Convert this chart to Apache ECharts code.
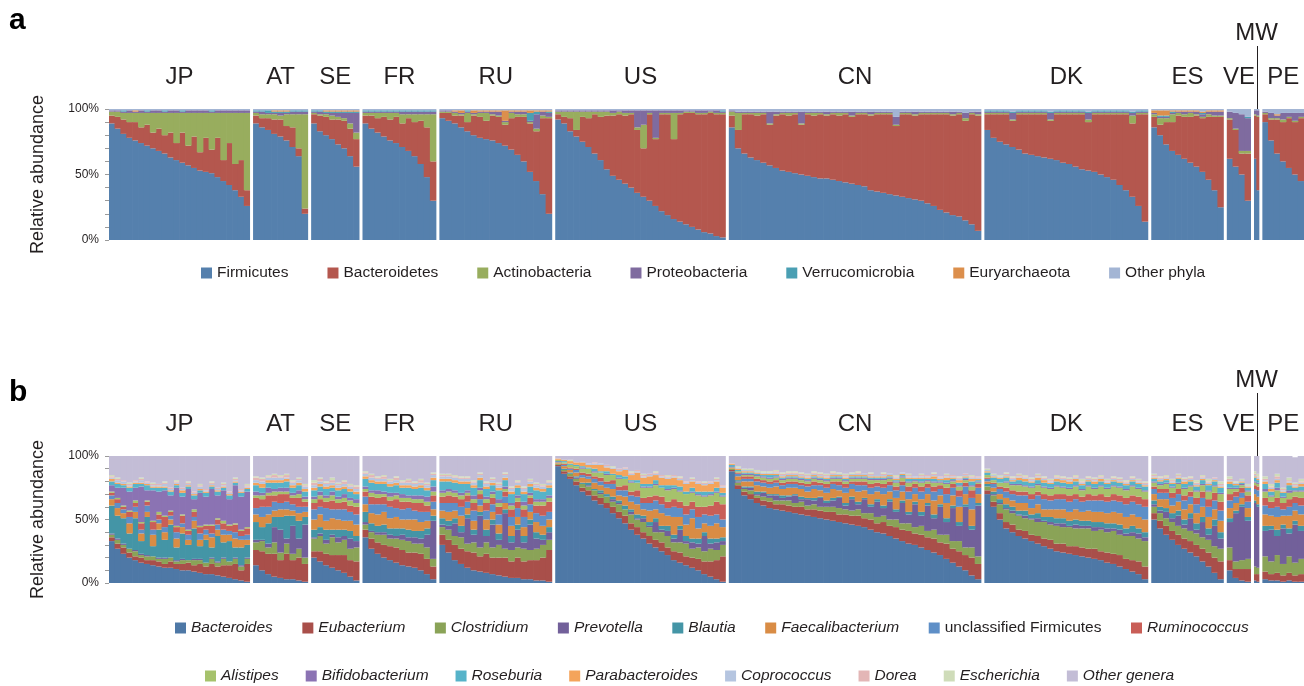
<!DOCTYPE html>
<html><head><meta charset="utf-8">
<script src="https://cdn.jsdelivr.net/npm/echarts@6/dist/echarts.min.js"></script>
<style>html,body{margin:0;padding:0;background:#fff}#c{width:1304px;height:686px}</style>
</head><body><div id="c"></div>
<script>
// ---------------- data ----------------
const countries = ['JP','AT','SE','FR','RU','US','CN','DK','ES','VE','MW','PE'];
// approximate number of individuals per country (sets the panel widths)
const sampleCounts = [105,41,36,55,84,127,188,122,54,18,4,31];
const phylumNames = ['Firmicutes','Bacteroidetes','Actinobacteria','Proteobacteria','Verrucomicrobia','Euryarchaeota','Other phyla'];
const phylumColors = ['#5580ad','#b4574e','#98ad5e','#7f6b9f','#4a9fb3','#dc8f4c','#a3b5d4'];
const genusNames = ['Bacteroides','Eubacterium','Clostridium','Prevotella','Blautia','Faecalibacterium','unclassified Firmicutes','Ruminococcus','Alistipes','Bifidobacterium','Roseburia','Parabacteroides','Coprococcus','Dorea','Escherichia','Other genera'];
const genusColors = ['#4e78a6','#a94f4a','#8aa357','#72609a','#4495a6','#d98c45','#5e8fc7','#c95e57','#a6c26c','#8b73b3','#56b3c9','#f4a45b','#b5c5e0','#e3b6b6','#cfdcb9','#c3bdd6'];
const yTickLabels = ['0%','50%','100%'];

// panel a: relative abundance (%) per sample group, columns follow phylumNames
const phylaJP = [[89,6,3,1,0,0,1],[85,9,4,1,0,0,1],[81,11,5,1,1,0,1],[78,12,7,2,0,0,1],[76,14,7,1,0,1,1],[74,12,11,2,0,0,1],[72,16,9,1,1,0,1],[70,12,15,2,0,0,1],[68,17,12,2,0,0,1],[66,14,17,1,1,0,1],[63,19,15,2,0,0,1],[61,13,23,2,0,0,1],[59,23,15,1,1,0,1],[57,15,25,2,0,0,1],[55,24,18,2,0,0,1],[53,14,30,2,0,0,1],[52,26,19,2,0,0,1],[51,18,28,1,1,0,1],[48,30,19,2,0,0,1],[45,16,36,2,0,0,1],[42,32,23,2,0,0,1],[38,20,39,2,0,0,1],[33,28,36,2,0,0,1],[26,12,59,2,0,0,1]];
const phylaAT = [[89,6,2,1,1,0,1],[86,7,3,2,1,0,1],[84,9,3,1,2,0,1],[81,11,4,1,1,1,1],[79,13,3,2,1,1,1],[76,11,9,1,1,1,1],[71,15,10,2,1,0,1],[64,6,26,2,1,0,1],[20,4,72,2,1,0,1]];
const phylaSE = [[89,7,1,1,1,0,1],[83,12,1,2,1,0,1],[80,14,2,1,1,1,1],[77,15,3,2,1,1,1],[73,19,2,3,1,1,1],[70,21,2,4,1,1,1],[64,21,4,8,1,1,1],[56,21,5,15,1,1,1]];
const phylaFR = [[89,6,2,1,1,0,1],[85,10,2,1,1,0,1],[82,11,4,1,1,0,1],[79,15,3,1,1,0,1],[76,16,5,1,1,0,1],[74,20,3,1,1,0,1],[71,18,7,2,1,0,1],[68,25,3,2,1,0,1],[64,26,6,2,1,0,1],[58,33,5,2,1,0,1],[48,38,10,2,1,0,1],[30,30,36,2,1,0,1]];
const phylaRU = [[93,4,1,1,0,0,1],[91,6,1,1,0,0,1],[89,6,2,1,0,1,1],[86,9,1,1,0,2,1],[83,7,7,1,1,0,1],[80,15,1,1,0,2,1],[78,16,3,1,0,1,1],[77,14,6,1,0,1,1],[76,19,1,2,0,1,1],[74,20,1,3,0,1,1],[72,16,2,1,0,8,1],[69,24,4,1,0,1,1],[65,29,2,2,0,1,1],[60,34,2,2,0,1,1],[52,37,1,1,6,2,1],[45,38,2,11,2,1,1],[35,58,2,3,0,1,1],[20,73,1,3,1,1,1]];
const phylaUS = [[92,4,2,1,0,0,1],[89,5,4,1,0,0,1],[83,10,5,1,0,0,1],[79,5,14,1,0,0,1],[75,19,4,1,0,0,1],[71,22,5,1,0,0,1],[66,30,2,1,0,0,1],[61,33,4,1,0,0,1],[54,41,3,1,0,0,1],[49,46,2,2,0,0,1],[46,50,2,1,0,0,1],[43,52,2,2,0,0,1],[40,56,1,2,0,0,1],[36,48,2,13,0,0,1],[33,37,18,11,0,0,1],[30,66,1,2,0,0,1],[26,51,1,21,0,0,1],[22,74,1,2,0,0,1],[19,77,1,2,0,0,1],[16,61,20,2,0,0,1],[14,82,1,2,0,0,1],[12,85,1,1,0,0,1],[10,87,1,1,0,0,1],[8,88,1,2,0,0,1],[6,90,1,2,0,0,1],[5,92,1,1,0,0,1],[3,93,1,2,0,0,1],[2,94,1,1,1,0,1]];
const phylaCN = [[86,9,3,1,0,0,1],[70,14,13,1,0,0,2],[66,30,1,1,0,0,2],[63,33,1,1,0,0,2],[61,34,2,1,0,0,2],[59,37,1,1,0,0,2],[57,31,1,9,0,0,2],[55,40,1,2,0,0,2],[53,43,1,1,0,0,2],[52,43,2,1,0,0,2],[51,45,1,1,0,0,2],[50,38,1,9,0,0,2],[49,47,1,1,0,0,2],[48,47,2,1,0,0,2],[47,49,1,1,0,0,2],[47,48,1,2,0,0,2],[46,50,1,1,0,0,2],[45,50,2,1,0,0,2],[44,52,1,1,0,0,2],[43,51,1,3,0,0,2],[42,54,1,1,0,0,2],[41,55,1,1,0,0,2],[38,57,1,2,0,0,2],[37,59,1,1,0,0,2],[36,60,1,1,0,0,2],[35,61,1,1,0,0,2],[34,53,1,6,0,0,6],[33,63,1,1,0,0,2],[32,64,1,1,0,0,2],[31,64,1,2,0,0,2],[30,66,1,1,0,0,2],[28,68,1,1,0,0,2],[26,70,1,1,0,0,2],[23,73,1,1,0,0,2],[21,75,1,1,0,0,2],[19,76,1,2,0,0,2],[18,78,1,1,0,0,2],[15,76,2,4,0,0,3],[12,84,1,1,0,0,2],[7,88,1,2,0,0,2]];
const phylaDK = [[84,12,1,1,1,0,1],[78,18,1,1,1,0,1],[75,21,1,1,1,0,1],[73,23,1,1,1,0,1],[71,20,1,5,1,0,2],[69,27,1,1,1,0,1],[66,30,1,1,1,0,1],[65,31,1,1,1,0,1],[64,32,1,1,1,0,1],[63,33,1,1,1,0,1],[62,29,1,5,1,0,2],[61,35,1,1,1,0,1],[59,37,1,1,1,0,1],[58,38,1,1,1,0,1],[56,40,1,1,1,0,1],[54,42,1,1,1,0,1],[53,37,2,5,1,0,2],[52,44,1,1,1,0,1],[50,46,1,1,1,0,1],[48,48,1,1,1,0,1],[46,50,1,1,1,0,1],[42,54,1,1,1,0,1],[38,58,1,1,1,0,1],[33,56,6,2,1,0,2],[26,70,1,1,1,0,1],[14,82,1,1,1,0,1]];
const phylaES = [[86,8,2,1,0,2,1],[80,8,5,1,1,4,1],[73,17,3,1,1,4,1],[68,22,6,1,1,1,1],[65,30,2,1,0,1,1],[62,32,2,2,0,1,1],[59,35,3,1,0,1,1],[56,39,1,2,0,1,1],[52,41,1,2,1,1,2],[46,48,2,2,0,1,1],[38,56,1,3,0,1,1],[25,69,1,3,0,1,1]];
const phylaVE = [[62,30,1,5,0,0,2],[56,28,1,12,0,0,3],[50,16,2,28,0,0,4],[30,36,2,25,1,0,6]];
const phylaMW = [[62,33,1,3,0,0,1],[38,56,1,4,0,0,1]];
const phylaPE = [[90,6,1,1,0,0,2],[76,16,1,4,0,0,3],[66,26,1,2,0,1,4],[60,30,2,5,0,0,3],[55,38,1,3,0,0,3],[50,40,1,6,0,0,3],[45,48,1,3,0,0,3]];

// panel b: relative abundance (%) per sample group, columns follow genusNames
const generaJP = [[33,3,2,1,22,5,3,2,1,5,3,2,1,1,1,15],[27,4,3,1,18,6,4,3,1,8,3,1,2,1,1,17],[23,5,2,1,20,4,3,2,1,14,2,1,2,1,0,19],[20,4,3,0,12,8,5,4,1,15,3,1,1,1,1,21],[18,3,4,1,25,5,4,3,2,10,3,1,1,1,0,19],[16,4,2,1,10,6,3,5,1,28,2,1,2,1,1,17],[15,3,3,1,30,4,5,3,1,8,4,1,1,1,0,20],[14,4,3,0,8,9,4,6,1,24,2,1,1,1,1,21],[13,4,2,1,22,5,3,4,2,16,3,1,1,1,0,22],[12,3,4,1,14,6,4,8,1,20,2,1,2,1,1,20],[12,5,3,0,26,4,3,3,1,12,3,1,1,1,0,25],[11,4,2,1,10,7,5,4,1,30,2,1,1,1,1,19],[10,5,3,1,20,5,3,6,1,14,3,2,1,1,0,25],[10,6,2,0,12,4,4,3,1,32,2,1,1,1,1,20],[9,5,4,1,24,6,3,4,2,8,3,1,1,1,0,28],[8,7,3,1,10,5,5,5,1,26,2,1,2,1,1,22],[7,6,3,0,18,4,4,3,1,22,3,1,1,1,0,26],[7,8,4,1,8,8,3,6,1,28,2,1,1,1,1,20],[6,7,3,1,20,5,4,4,1,18,3,1,1,1,0,25],[5,9,5,1,12,6,4,5,2,24,2,1,1,1,1,21],[4,10,3,0,16,5,3,4,1,20,3,1,1,1,0,28],[3,12,4,1,8,7,5,6,1,30,2,1,1,1,1,17],[2,8,3,1,14,6,3,4,1,26,3,1,1,1,0,26],[1,14,4,1,10,4,4,5,1,28,2,1,1,1,1,22]];
const generaAT = [[14,12,6,2,14,6,5,8,2,3,5,2,2,2,1,16],[10,15,8,1,10,8,8,6,3,2,4,3,2,2,1,17],[7,16,5,3,16,7,6,9,2,4,4,2,2,1,1,15],[5,18,9,12,8,5,7,5,3,2,5,2,2,2,1,14],[4,14,6,18,10,6,5,7,2,3,4,2,2,1,1,15],[3,20,8,4,18,5,6,6,2,3,5,2,1,2,1,14],[3,15,5,22,8,4,5,5,2,2,4,2,2,1,1,19],[2,18,7,8,14,6,5,7,3,3,4,2,2,1,1,17],[1,14,5,26,6,4,4,4,2,2,4,2,2,1,1,22]];
const generaSE = [[20,5,10,1,6,8,8,5,3,2,5,2,2,2,2,19],[17,8,12,2,5,10,6,6,3,3,4,2,2,2,1,17],[14,9,8,3,8,7,10,5,3,2,5,2,2,1,1,20],[12,10,14,2,4,9,7,7,4,3,3,2,2,2,2,17],[10,12,10,4,6,8,8,5,3,2,5,2,2,1,1,21],[8,14,12,3,5,7,9,6,3,3,4,2,2,2,1,19],[5,13,9,8,6,8,7,5,4,2,5,2,2,1,1,22],[2,15,11,5,4,9,8,6,3,3,4,2,2,2,1,23]];
const generaFR = [[36,6,4,2,8,6,6,4,2,2,6,2,2,1,1,12],[27,8,5,1,6,8,7,6,3,2,6,2,2,2,1,14],[23,9,6,2,5,9,8,5,3,3,5,2,2,1,1,16],[20,10,8,2,6,10,6,6,2,2,6,2,2,2,1,15],[18,11,6,3,5,8,9,5,3,3,5,2,2,1,1,18],[16,12,7,2,6,9,7,7,3,2,6,2,2,2,1,16],[14,12,8,4,5,7,8,6,3,3,5,2,2,1,1,19],[13,11,9,3,6,8,9,5,3,2,6,2,2,2,1,18],[12,12,7,5,5,9,7,6,3,3,5,2,2,1,1,20],[10,13,8,4,6,7,8,7,3,3,6,2,2,2,1,18],[7,12,9,10,5,6,7,5,3,4,5,2,2,1,1,21],[3,10,6,30,4,5,6,5,3,4,5,2,2,1,1,13]];
const generaRU = [[30,8,6,2,5,6,6,5,3,2,7,2,2,1,1,14],[24,10,8,3,4,7,7,6,3,2,6,2,2,1,1,14],[18,12,7,10,4,6,6,5,3,2,6,2,2,1,1,15],[15,12,9,4,5,8,7,6,3,2,7,2,2,1,1,16],[12,13,6,20,3,5,5,5,2,2,5,2,2,1,1,16],[10,14,8,6,4,7,8,6,3,3,6,2,2,1,1,19],[9,12,7,25,3,5,5,4,3,2,6,2,2,1,1,13],[8,15,9,5,5,8,7,6,3,2,6,2,2,1,1,20],[7,13,8,18,4,6,6,5,3,2,5,2,2,1,1,17],[6,14,10,4,5,7,8,6,3,3,7,2,2,1,1,21],[5,15,7,28,3,5,5,4,2,2,5,2,2,1,1,13],[4,13,9,6,5,8,7,6,3,2,7,2,2,1,1,24],[4,16,8,14,4,6,7,5,3,2,6,2,2,1,1,19],[3,14,10,5,5,7,8,6,3,3,6,2,2,1,1,24],[3,15,8,20,4,6,6,5,2,2,5,2,2,1,1,18],[2,16,9,8,5,8,7,6,3,2,7,2,2,1,1,21],[2,18,10,4,4,7,8,8,3,2,6,2,2,1,1,22],[1,25,8,6,4,6,6,8,3,2,6,2,2,1,1,19]];
const generaUS = [[92,1,1,0,0,1,1,0,1,0,0,1,0,0,0,2],[86,2,1,0,1,2,1,1,1,0,1,1,0,0,0,3],[82,2,2,0,1,2,1,1,2,0,1,2,0,0,1,3],[77,3,2,1,1,3,2,1,2,0,1,2,0,0,0,5],[72,3,3,0,1,4,2,2,3,1,1,3,1,0,0,4],[69,4,3,1,2,3,2,2,4,0,1,2,1,0,0,6],[65,4,4,0,1,5,3,2,3,1,2,3,1,1,0,5],[62,5,3,1,2,4,3,3,4,0,1,5,1,0,0,6],[59,4,5,0,2,5,3,2,5,1,2,3,1,1,0,7],[55,5,4,2,2,6,4,3,4,0,1,4,1,0,1,8],[51,5,6,1,2,4,4,3,6,1,2,3,1,1,0,10],[47,6,5,0,3,7,5,4,5,0,2,5,1,1,0,9],[42,5,7,2,2,6,5,3,7,1,1,4,1,1,1,12],[38,6,6,1,3,8,6,5,6,0,2,6,1,1,0,11],[35,5,8,3,2,5,5,4,8,1,2,5,1,1,1,14],[31,6,7,1,3,9,6,5,7,1,2,6,1,1,0,14],[28,6,6,8,3,7,7,4,8,1,3,4,1,1,1,12],[25,7,8,2,3,10,7,6,7,0,2,6,1,1,0,15],[22,6,9,4,4,8,6,5,9,1,3,5,1,1,1,15],[18,7,7,3,3,14,8,6,8,1,2,6,1,1,0,15],[16,8,8,10,3,7,7,5,8,1,3,5,1,1,1,16],[14,7,10,2,4,9,8,7,9,0,2,6,1,1,0,20],[12,8,7,5,3,16,7,6,7,1,3,5,1,1,1,17],[10,9,9,3,4,8,9,8,9,1,2,6,1,1,0,20],[7,10,8,12,3,7,7,6,8,1,3,5,1,1,1,20],[5,12,10,4,4,10,8,8,8,1,2,6,1,1,0,20],[3,15,8,6,3,12,7,10,7,1,3,5,1,1,1,17],[1,20,9,3,3,8,6,12,6,1,2,4,1,1,0,23]];
const generaCN = [[88,1,1,0,0,1,1,0,0,0,1,1,0,0,0,6],[74,3,2,1,1,3,2,1,1,0,1,1,1,0,1,8],[69,3,2,1,1,4,2,2,1,1,1,1,1,0,1,10],[66,4,3,2,1,4,2,2,1,1,1,1,1,0,1,10],[63,4,2,1,2,5,3,2,2,1,1,1,1,0,1,11],[61,4,3,3,1,4,3,2,2,1,1,1,1,0,1,12],[59,5,3,2,1,5,3,2,2,1,2,1,1,0,1,12],[58,4,3,4,1,6,3,2,2,1,1,1,1,1,1,11],[57,5,3,2,2,5,3,2,2,1,1,1,1,1,1,13],[56,5,4,3,1,6,3,2,2,1,1,1,1,1,1,12],[55,5,3,6,1,5,3,2,2,1,1,1,1,1,1,12],[54,6,4,2,2,6,3,2,2,1,1,1,1,1,1,13],[53,5,3,5,1,5,4,2,2,1,1,1,1,1,1,14],[52,6,4,3,2,7,3,3,2,1,1,1,1,1,1,12],[51,6,3,7,1,5,4,2,2,1,1,1,1,1,1,13],[50,6,4,3,2,6,4,3,2,1,1,1,1,1,1,14],[49,7,4,5,2,7,4,2,2,1,1,1,1,1,1,12],[48,6,5,8,1,5,4,3,2,1,1,1,1,0,1,13],[47,7,4,3,2,8,4,3,2,1,1,1,1,1,1,14],[46,7,4,9,2,6,4,2,2,1,1,1,1,0,1,13],[45,8,5,4,2,8,5,3,2,1,1,1,1,1,1,12],[44,7,4,11,1,6,4,3,2,1,1,1,1,0,0,14],[42,8,5,5,2,8,5,3,3,1,1,1,1,1,1,13],[40,7,5,12,2,6,4,3,2,1,1,1,1,0,0,15],[39,9,5,6,2,9,5,3,3,1,1,1,1,1,1,13],[37,8,5,14,2,6,5,3,2,1,1,1,1,0,0,14],[35,9,6,6,2,9,6,3,3,1,1,1,1,1,1,15],[33,9,5,16,2,7,5,3,3,1,1,1,1,0,0,13],[31,10,6,7,2,10,6,4,3,1,2,1,1,1,1,14],[30,9,5,18,2,6,5,3,2,1,1,1,1,0,0,16],[28,10,7,8,3,10,6,4,3,1,2,1,1,1,1,14],[26,10,5,20,2,7,5,3,2,1,1,1,1,1,0,15],[24,11,7,9,3,11,7,4,3,1,2,2,1,1,1,13],[22,10,6,22,2,7,5,3,2,1,1,1,1,1,0,16],[19,12,7,10,3,12,7,5,3,1,2,2,1,1,1,14],[16,11,6,26,2,8,6,3,2,1,1,1,1,1,0,15],[13,12,8,12,3,12,8,5,3,1,2,2,1,1,1,16],[10,12,6,32,2,8,6,3,2,1,1,1,1,1,0,14],[6,14,8,14,3,13,9,6,3,1,3,2,1,1,1,15],[3,12,6,40,2,7,5,3,1,1,1,1,1,1,0,16]];
const generaDK = [[70,3,3,0,2,2,2,1,2,0,2,1,1,0,1,10],[60,4,5,1,2,3,3,1,2,0,2,1,1,0,1,14],[50,5,7,1,3,4,4,2,3,0,3,1,1,0,1,15],[43,5,10,1,3,5,5,3,4,1,3,1,1,1,1,13],[40,6,9,2,3,5,5,3,4,1,2,1,1,1,1,16],[37,5,11,1,3,6,6,3,5,1,3,2,1,1,1,14],[35,6,10,2,4,6,6,3,4,1,3,2,1,1,1,15],[33,5,12,1,3,5,7,4,5,1,3,1,1,1,1,17],[31,6,11,3,4,7,7,3,5,1,3,2,1,1,1,14],[29,6,13,1,3,6,8,4,5,1,3,2,1,1,1,16],[27,7,12,2,4,6,7,4,5,1,3,1,1,1,1,18],[25,6,14,2,4,7,8,4,6,1,3,2,1,1,1,15],[24,7,13,3,4,7,8,4,5,1,3,2,1,1,1,16],[23,6,15,1,4,7,8,5,5,1,3,2,1,1,1,17],[22,7,14,3,4,8,8,4,6,1,3,2,1,1,1,15],[21,7,15,2,4,7,8,4,5,1,3,1,1,1,2,18],[20,7,16,2,4,8,8,5,6,1,3,1,1,1,1,16],[19,8,14,3,4,8,9,4,5,1,3,2,1,1,1,17],[18,7,17,2,4,8,9,5,6,1,3,2,1,1,1,15],[16,8,16,3,4,8,9,4,6,1,3,1,1,1,1,18],[15,8,18,2,4,9,9,5,6,1,3,1,1,1,1,16],[13,9,16,4,4,9,9,5,6,1,3,1,1,1,1,17],[11,8,18,2,4,9,10,5,6,1,3,1,1,1,1,19],[9,9,19,3,5,9,10,5,7,1,3,1,1,1,1,16],[7,10,18,4,4,9,10,6,6,1,3,1,1,1,1,18],[3,10,20,3,4,10,10,6,6,1,3,1,1,1,1,20]];
const generaES = [[50,5,5,2,3,5,4,2,3,1,2,1,1,1,1,14],[43,6,6,2,3,6,5,3,3,1,2,1,1,1,1,16],[38,7,6,5,3,7,5,3,4,1,2,1,1,1,1,15],[34,7,7,3,4,6,6,4,4,1,2,1,1,1,1,18],[30,8,7,8,4,7,6,4,4,1,3,1,1,1,1,14],[27,8,8,3,4,8,7,4,5,1,3,2,1,1,1,17],[24,9,8,10,4,7,6,4,4,1,3,1,1,1,1,16],[21,9,9,3,5,8,7,5,5,1,3,1,1,1,2,19],[17,10,9,12,4,8,7,5,5,1,3,1,1,1,1,15],[13,11,10,4,5,9,8,6,6,1,4,1,1,1,2,18],[8,12,9,16,5,8,7,6,5,1,3,1,1,1,0,17],[3,14,10,8,5,9,8,7,6,1,4,1,1,1,2,20]];
const generaVE = [[10,8,10,20,3,8,6,5,4,1,3,2,1,1,2,16],[4,7,6,38,2,6,5,4,2,1,2,1,1,0,1,20],[2,9,7,42,2,5,4,4,2,1,1,1,1,0,1,18],[1,10,8,30,3,7,5,5,3,1,2,1,1,0,1,22]];
const generaMW = [[2,5,6,50,2,5,4,3,2,1,3,1,1,1,2,12],[1,6,5,48,2,6,5,3,2,1,2,1,1,1,2,14]];
const generaPE = [[3,6,12,20,4,9,7,6,5,2,4,2,1,1,2,16],[2,5,10,25,3,8,6,5,4,1,3,2,1,1,2,22],[2,6,14,15,5,10,8,7,6,2,4,2,1,2,2,14],[1,5,9,28,3,7,5,5,4,1,3,1,1,1,1,25],[2,6,13,18,4,10,7,6,5,2,4,2,1,1,2,17],[1,5,10,30,3,8,6,5,4,1,2,1,1,1,1,20],[1,6,12,22,4,9,7,6,5,1,3,2,1,1,2,18]];

const phylaRows = [phylaJP,phylaAT,phylaSE,phylaFR,phylaRU,phylaUS,phylaCN,phylaDK,phylaES,phylaVE,phylaMW,phylaPE];
const generaRows = [generaJP,generaAT,generaSE,generaFR,generaRU,generaUS,generaCN,generaDK,generaES,generaVE,generaMW,generaPE];

// ---------------- layout ----------------
const FONT = "'Liberation Sans', Arial, Helvetica, sans-serif";
const INK = '#231f20';
const PLOT_LEFT = 109, PLOT_RIGHT = 1304, GAP = 3;
const panels = [
  {key:'a', top:109, height:131, names:phylumNames, colors:phylumColors, rows:phylaRows, labelGap:20, mwGap:64},
  {key:'b', top:456, height:127, names:genusNames, colors:genusColors, rows:generaRows, labelGap:20, mwGap:64}
];
const total = sampleCounts.reduce((s,v)=>s+v,0);
const unit = (PLOT_RIGHT - PLOT_LEFT - GAP*(countries.length-1)) / total;

const grids=[], xAxes=[], yAxes=[], series=[], graphics=[];
panels.forEach((p)=>{
  let cum = 0;
  countries.forEach((c,ci)=>{
    const left = PLOT_LEFT + cum*unit + ci*GAP;
    const width = sampleCounts[ci]*unit;
    cum += sampleCounts[ci];
    const gi = grids.length;
    grids.push({left:left, top:p.top, width:width, height:p.height});
    const rows = p.rows[ci];
    // bars slightly wider than their band so neighbours overlap (no hairline seams)
    const bw = width/rows.length + 0.7;
    xAxes.push({
      type:'category', gridIndex:gi, position:'top', boundaryGap:true,
      data: rows.map((r,i)=>c+(i+1)),
      axisLine:{show:false}, axisTick:{show:false}, axisLabel:{show:false}, splitLine:{show:false},
      name:c, nameLocation:'middle', nameGap:(c==='MW'?p.mwGap:p.labelGap),
      nameTextStyle:{fontSize:24, color:INK, fontFamily:FONT}
    });
    const first = ci===0;
    yAxes.push({
      type:'value', gridIndex:gi, min:0, max:100, interval:10, show:first,
      splitLine:{show:false}, axisLine:{show:false},
      axisTick:{show:true, length:4, lineStyle:{color:'#9a9a9a', width:1}},
      axisLabel:{margin:10, color:INK, fontSize:12, fontFamily:FONT,
        formatter:(v)=>{ const t = v+'%'; return yTickLabels.indexOf(t)>=0 ? t : ''; }},
      name: first ? 'Relative abundance' : '', nameLocation:'middle', nameRotate:90, nameGap:62,
      nameTextStyle:{fontSize:18, color:INK, fontFamily:FONT}
    });
    p.names.forEach((n,k)=>{
      series.push({
        type:'bar', name:n, xAxisIndex:gi, yAxisIndex:gi, stack:p.key+ci,
        barWidth:bw, barGap:'-100%', silent:true,
        itemStyle:{color:p.colors[k]},
        data: rows.map(r=>r[k])
      });
    });
    if (c==='MW') {
      const x = Math.round(left + width/2) + 0.5;
      graphics.push({type:'line', silent:true,
        shape:{x1:x, y1:p.top - p.mwGap + 1, x2:x, y2:p.top},
        style:{stroke:INK, lineWidth:1}});
    }
  });
});

const legText = {fontSize:15.5, color:INK, fontFamily:FONT};
const option = {
  animation:false,
  backgroundColor:'#ffffff',
  title:[
    {text:'a', left:9, top:6, padding:0, textStyle:{fontSize:30, fontWeight:'bold', color:'#000', fontFamily:FONT}},
    {text:'b', left:9, top:378, padding:0, textStyle:{fontSize:30, fontWeight:'bold', color:'#000', fontFamily:FONT}}
  ],
  legend:[
    {data:phylumNames, left:201, top:265, padding:0, itemGap:39, itemWidth:11, itemHeight:11, icon:'rect', selectedMode:false, textStyle:legText},
    {data:genusNames.slice(0,8).map(n=>({name:n, textStyle:{fontStyle:(n==='unclassified Firmicutes'?'normal':'italic')}})),
     left:175, top:620, padding:0, itemGap:29.5, itemWidth:11, itemHeight:11, icon:'rect', selectedMode:false, textStyle:legText},
    {data:genusNames.slice(8).map(n=>({name:n, textStyle:{fontStyle:'italic'}})),
     left:205, top:668, padding:0, itemGap:27, itemWidth:11, itemHeight:11, icon:'rect', selectedMode:false, textStyle:legText}
  ],
  grid:grids, xAxis:xAxes, yAxis:yAxes, series:series,
  graphic:graphics
};
const chart = echarts.init(document.getElementById('c'), null, {renderer:'canvas'});
chart.setOption(option);
</script>
</body></html>
